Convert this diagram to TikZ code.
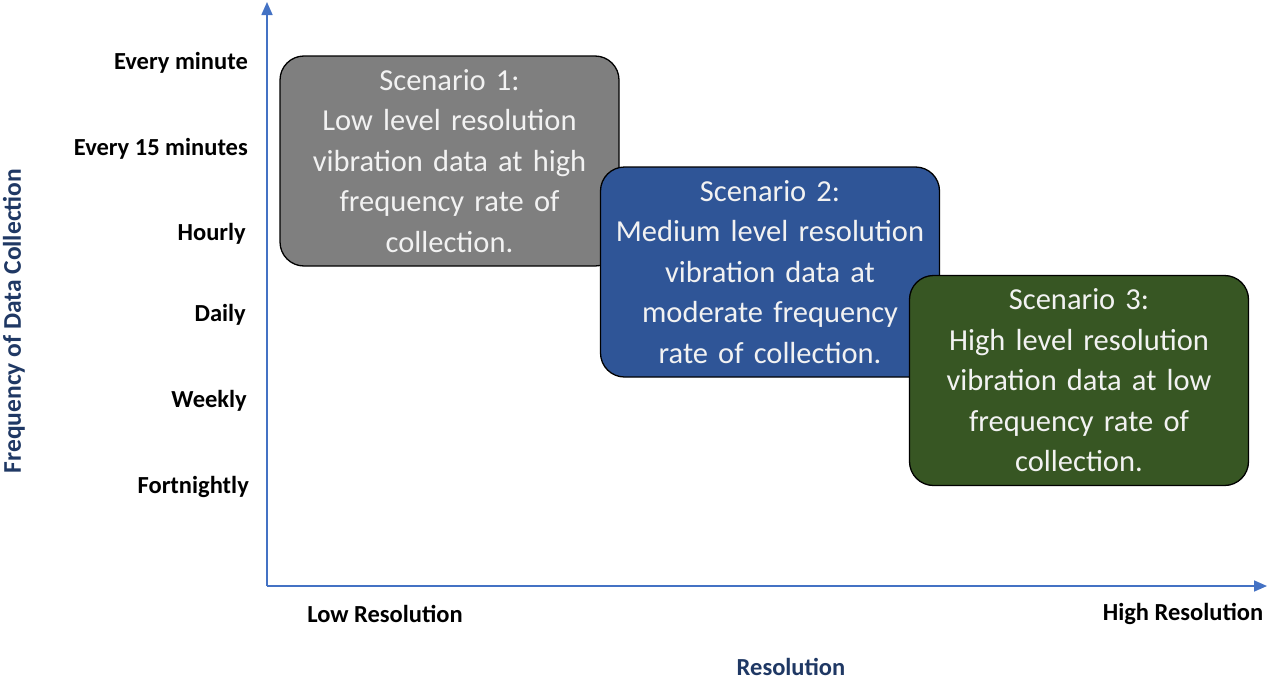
\documentclass[tikz,border=0pt]{standalone}
\usepackage{fontspec}
\setmainfont{Carlito}
\usetikzlibrary{arrows.meta}
\definecolor{axisblue}{HTML}{4472C4}
\definecolor{navy}{HTML}{1F3864}
\definecolor{sgray}{HTML}{7F7F7F}
\definecolor{sblue}{HTML}{2F5597}
\definecolor{sgreen}{HTML}{375623}
\definecolor{stext}{HTML}{F2F2F2}
\tikzset{
  axis/.style={draw=axisblue, line width=1.6pt, -{Triangle[length=13pt,width=11pt]}},
  scen/.style={draw=black, line width=1.3pt, rounded corners=24pt, minimum width=339pt, minimum height=210pt,
     text=stext, align=center, text width=330pt, inner sep=0pt, font=\fontsize{30.5}{40.5}\selectfont},
  ylab/.style={anchor=east, font=\bfseries\fontsize{24.5}{28}\selectfont, inner sep=0pt},
  xlab/.style={font=\bfseries\fontsize{24.5}{28}\selectfont, inner sep=0pt},
  title/.style={text=navy, font=\bfseries\fontsize{24.5}{28}\selectfont, inner sep=0pt}
}
\begin{document}
\begin{tikzpicture}[x=1pt,y=-1pt]
\useasboundingbox (0,0) rectangle (1268,680);
\coordinate (o) at (267,586);
\coordinate (ytop) at (267,2);
\coordinate (xend) at (1267,586);
\draw[axis] (o) -- (ytop);
\draw[axis] (o) -- (xend);

\node[ylab] (l1) at (248,63) {Every minute};
\node[ylab] (l2) at (248,149) {Every 15 minutes};
\node[ylab] (l3) at (246,234) {Hourly};
\node[ylab] (l4) at (246,315) {Daily};
\node[ylab] (l5) at (247,401) {Weekly};
\node[ylab] (l6) at (249,487) {Fortnightly};

\node[xlab] (xl) at (385,614) {Low Resolution};
\node[xlab] (xh) at (1183,614) {High Resolution};
\node[title] (xt) at (791,667) {Resolution};
\node[title, rotate=90, font=\bfseries\fontsize{25.5}{28}\selectfont] (yt) at (14,321) {Frequency of Data Collection};

\node[scen, fill=sgray] (s1) at (449.5,161) {Scenario 1:\\Low level resolution\\vibration data at high\\frequency rate of\\collection.};
\node[scen, fill=sblue] (s2) at (770,272) {Scenario 2:\\Medium level resolution\\vibration data at\\moderate frequency\\rate of collection.};
\node[scen, fill=sgreen] (s3) at (1079,380.5) {Scenario 3:\\High level resolution\\vibration data at low\\frequency rate of\\collection.};
\end{tikzpicture}
\end{document}
